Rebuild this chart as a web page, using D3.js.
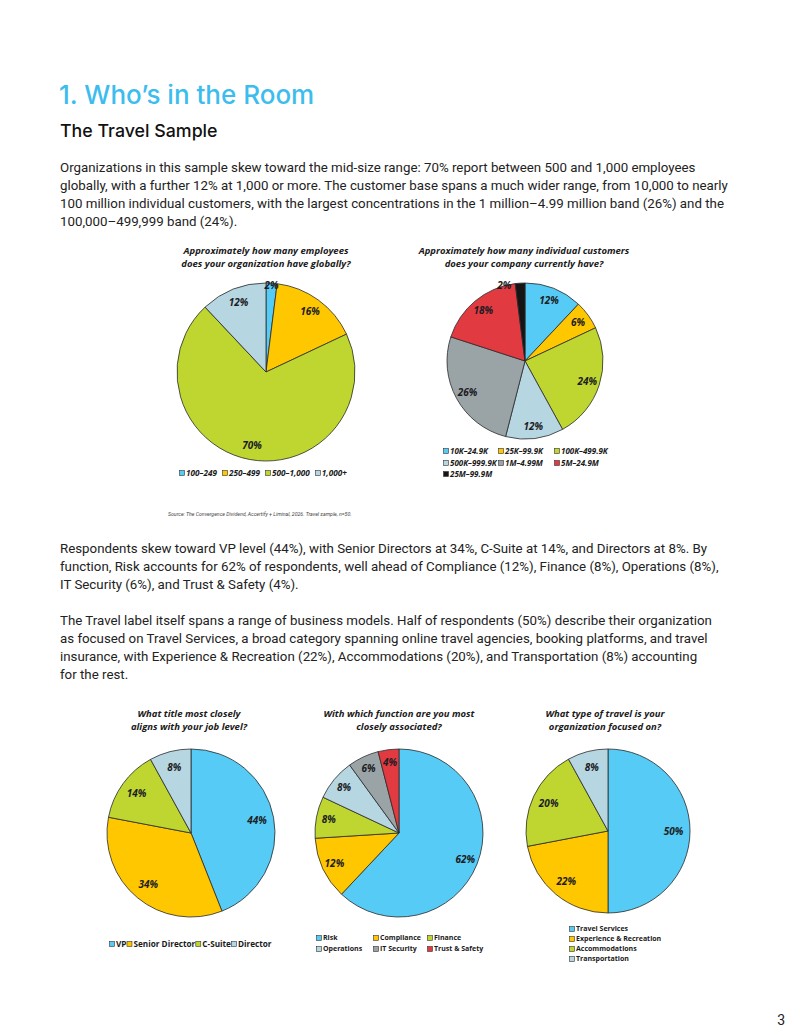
<!DOCTYPE html>
<html>
<head>
<meta charset="utf-8">
<script src="https://cdn.jsdelivr.net/npm/d3@7"></script>
<style>
  body { margin: 0; background: #fff; }
</style>
</head>
<body>
<div id="page"></div>
<script>

// page size
var width = 800, height = 1035;

// slice colours, in the order the slices appear
var colors = ["#56CBF5", "#FFC700", "#BED62F", "#B6D6E2", "#9AA4A6", "#E13A41", "#151515"];

// employees chart
var empLabels = ["100–249", "250–499", "500–1,000", "1,000+"];
var empValues = [2, 16, 70, 12];

// customers chart
var custLabels = ["10K–24.9K", "25K–99.9K", "100K–499.9K", "500K–999.9K", "1M–4.99M", "5M–24.9M", "25M–99.9M"];
var custValues = [12, 6, 24, 12, 26, 18, 2];

// job level chart
var jobLabels = ["VP", "Senior Director", "C-Suite", "Director"];
var jobValues = [44, 34, 14, 8];

// function chart
var funcLabels = ["Risk", "Compliance", "Finance", "Operations", "IT Security", "Trust & Safety"];
var funcValues = [62, 12, 8, 8, 6, 4];

// travel type chart
var travelLabels = ["Travel Services", "Experience & Recreation", "Accommodations", "Transportation"];
var travelValues = [50, 22, 20, 8];

// body copy, one entry per printed line
var para1 = [
  "Organizations in this sample skew toward the mid-size range: 70% report between 500 and 1,000 employees",
  "globally, with a further 12% at 1,000 or more. The customer base spans a much wider range, from 10,000 to nearly",
  "100 million individual customers, with the largest concentrations in the 1 million–4.99 million band (26%) and the",
  "100,000–499,999 band (24%)."
];
var para2 = [
  "Respondents skew toward VP level (44%), with Senior Directors at 34%, C-Suite at 14%, and Directors at 8%. By",
  "function, Risk accounts for 62% of respondents, well ahead of Compliance (12%), Finance (8%), Operations (8%),",
  "IT Security (6%), and Trust & Safety (4%)."
];
var para3 = [
  "The Travel label itself spans a range of business models. Half of respondents (50%) describe their organization",
  "as focused on Travel Services, a broad category spanning online travel agencies, booking platforms, and travel",
  "insurance, with Experience & Recreation (22%), Accommodations (20%), and Transportation (8%) accounting",
  "for the rest."
];

var bodyFont = "Roboto, 'Liberation Sans', sans-serif";
var chartFont = "'Open Sans', 'DejaVu Sans', sans-serif";

var svg = d3.select("#page")
  .append("svg")
  .attr("width", width)
  .attr("height", height);

svg.append("rect").attr("width", width).attr("height", height).attr("fill", "#fff");

// heading
svg.append("text")
  .attr("x", 59).attr("y", 104)
  .attr("font-family", "Inter, 'Noto Sans', sans-serif")
  .attr("font-size", 26).attr("font-weight", 500)
  .attr("fill", "#3CBDEE")
  .text("1. Who’s in the Room");

svg.append("text")
  .attr("x", 60).attr("y", 137)
  .attr("font-family", "Inter, 'Noto Sans', sans-serif")
  .attr("font-size", 17.8).attr("font-weight", 500)
  .attr("fill", "#111")
  .text("The Travel Sample");

// write a paragraph line by line
function paragraph(lines, y0) {
  svg.append("g").selectAll("text")
    .data(lines)
    .join("text")
    .attr("x", 60)
    .attr("y", function(d, i) { return y0 + i * 18; })
    .attr("font-family", bodyFont)
    .attr("font-size", 13.3)
    .attr("fill", "#222")
    .text(function(d) { return d; });
}

paragraph(para1, 172);
paragraph(para2, 553);
paragraph(para3, 625);

// source note
svg.append("text")
  .attr("x", 168).attr("y", 516)
  .attr("font-family", bodyFont)
  .attr("font-size", 5.2)
  .attr("font-style", "italic")
  .attr("fill", "#444")
  .text("Source: The Convergence Dividend, Accertify + Liminal, 2026. Travel sample, n=50.");

// page number
svg.append("text")
  .attr("x", 785).attr("y", 1025)
  .attr("text-anchor", "end")
  .attr("font-family", bodyFont)
  .attr("font-size", 14)
  .attr("fill", "#222")
  .text("3");

function drawPie(cfg) {
  var data = cfg.labels.map(function(l, i) { return {label: l, value: cfg.values[i], i: i}; });

  var pie = d3.pie().sort(null).value(function(d) { return d.value; });
  var arc = d3.arc().innerRadius(0).outerRadius(cfg.r);
  var arcs = pie(data);

  var g = svg.append("g")
    .attr("transform", "translate(" + cfg.cx + "," + cfg.cy + ")");

  // slices
  g.selectAll("path")
    .data(arcs)
    .join("path")
    .attr("d", arc)
    .attr("fill", function(d) { return colors[d.data.i]; })
    .attr("stroke", "#2a2a2a")
    .attr("stroke-width", 0.8)
    .attr("stroke-linejoin", "round");

  // percentage labels, tiny slices pushed towards the rim
  g.selectAll("text.pct")
    .data(arcs)
    .join("text")
    .attr("class", "pct")
    .attr("transform", function(d) {
      var small = d.data.value <= 2;
      var lr = small ? cfg.r * 0.97 : cfg.r * cfg.lf;
      var c = d3.arc().innerRadius(lr).outerRadius(lr).centroid(d);
      var dx = small ? (cfg.smallDx || 0) : 0;
      return "translate(" + (c[0] + dx) + "," + c[1] + ")";
    })
    .attr("dy", "0.35em")
    .attr("text-anchor", "middle")
    .attr("font-family", chartFont)
    .attr("font-size", 10)
    .attr("font-weight", 700)
    .attr("font-style", "italic")
    .attr("fill", "#1c1c24")
    .text(function(d) { return d.data.value + "%"; });

  // question title
  svg.append("g").selectAll("text")
    .data(cfg.title)
    .join("text")
    .attr("x", cfg.tx)
    .attr("y", function(d, i) { return cfg.ty + i * 12.5; })
    .attr("text-anchor", "middle")
    .attr("font-family", chartFont)
    .attr("font-size", 9.5)
    .attr("font-weight", 700)
    .attr("font-style", "italic")
    .attr("fill", "#1a1a1a")
    .text(function(d) { return d; });

  // legend
  var leg = svg.append("g");
  var lx = cfg.legend.x0, row = 0;
  data.forEach(function(d, i) {
    var x, y;
    if (cfg.legend.type === "flow") {
      x = lx; y = cfg.legend.y0;
    } else {
      var col = i % cfg.legend.cols.length;
      row = Math.floor(i / cfg.legend.cols.length);
      x = cfg.legend.cols[col]; y = cfg.legend.rows[row];
    }
    leg.append("rect")
      .attr("x", x - 2.5).attr("y", y - 2.5)
      .attr("width", 5).attr("height", 5)
      .attr("fill", colors[i])
      .attr("stroke", "#333")
      .attr("stroke-width", 0.6);
    var t = leg.append("text")
      .attr("x", x + 4)
      .attr("y", y)
      .attr("dy", "0.35em")
      .attr("font-family", chartFont)
      .attr("font-size", cfg.legend.size)
      .attr("font-weight", 700)
      .attr("font-style", cfg.legend.italic ? "italic" : "normal")
      .attr("fill", "#1a1a1a")
      .text(d.label);
    if (cfg.legend.type === "flow") {
      lx += 4 + t.node().getComputedTextLength() + cfg.legend.gap;
    }
  });
}

drawPie({
  labels: empLabels, values: empValues,
  cx: 266, cy: 372, r: 89, lf: 0.84,
  title: ["Approximately how many employees", "does your organization have globally?"],
  tx: 266, ty: 254,
  legend: {type: "flow", x0: 182, y0: 473, gap: 8, size: 8.2, italic: true}
});

drawPie({
  labels: custLabels, values: custValues,
  cx: 525, cy: 361, r: 78, lf: 0.84, smallDx: -16,
  title: ["Approximately how many individual customers", "does your company currently have?"],
  tx: 524, ty: 254,
  legend: {type: "grid", cols: [446, 501, 557], rows: [451, 463, 474], size: 8, italic: true}
});

drawPie({
  labels: jobLabels, values: jobValues,
  cx: 191, cy: 833, r: 84, lf: 0.8,
  title: ["What title  most closely", "aligns with your job level?"],
  tx: 189, ty: 717,
  legend: {type: "flow", x0: 112, y0: 944, gap: 3, size: 8.2, italic: false}
});

drawPie({
  labels: funcLabels, values: funcValues,
  cx: 399, cy: 833, r: 84, lf: 0.85,
  title: ["With which function are you most", "closely associated?"],
  tx: 399, ty: 717,
  legend: {type: "grid", cols: [319, 376, 430], rows: [938, 949], size: 7, italic: false}
});

drawPie({
  labels: travelLabels, values: travelValues,
  cx: 608, cy: 831, r: 82, lf: 0.8,
  title: ["What type of travel is your", "organization focused on?"],
  tx: 605, ty: 717,
  legend: {type: "grid", cols: [572], rows: [929, 939, 949, 959], size: 7, italic: false}
});

</script>
</body>
</html>
